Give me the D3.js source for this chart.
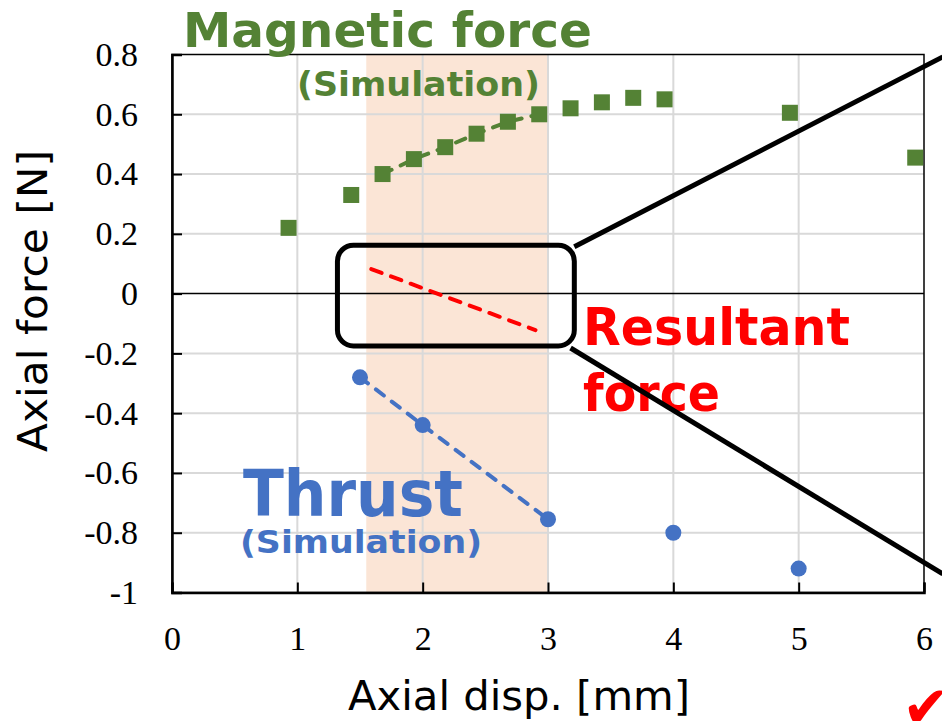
<!DOCTYPE html>
<html>
<head>
<meta charset="utf-8">
<script src="https://cdn.jsdelivr.net/npm/d3@7/dist/d3.min.js"></script>
<style>
  body { margin: 0; background: #fff; }
  svg { display: block; }
</style>
</head>
<body>
<div id="chart"></div>
<script>
// axis ticks
const xTicks = [0, 1, 2, 3, 4, 5, 6];
const xTickLabels = ['0', '1', '2', '3', '4', '5', '6'];
const yTicks = [-1, -0.8, -0.6, -0.4, -0.2, 0, 0.2, 0.4, 0.6, 0.8];
const yTickLabels = ['-1', '-0.8', '-0.6', '-0.4', '-0.2', '0', '0.2', '0.4', '0.6', '0.8'];

// magnetic force (simulation), squares
const magneticX = [0.93, 1.43, 1.68, 1.93, 2.18, 2.43, 2.68, 2.93, 3.18, 3.43, 3.68, 3.93, 4.93, 5.93];
const magneticY = [0.22, 0.33, 0.40, 0.45, 0.49, 0.535, 0.575, 0.60, 0.62, 0.64, 0.655, 0.65, 0.605, 0.455];

// thrust (simulation), circles
const thrustX = [1.5, 2, 3, 4, 5];
const thrustY = [-0.28, -0.44, -0.755, -0.80, -0.92];

// resultant force (dashed line)
const resultantX = [1.59, 2.90];
const resultantY = [0.082, -0.122];

// highlighted range and zoom box
const bandRange = [1.55, 3.0];
const zoomBoxX = [1.32, 3.21];
const zoomBoxY = [0.162, -0.175];
const calloutFrom = [[3.21, 0.157], [3.18, -0.182]];
const calloutTo = [[6.15, 0.792], [6.15, -0.938]];

const green = '#548235', blue = '#4472c4', red = '#ff0000';

const width = 942, height = 721;
const plot = { left: 172, right: 924, top: 54.5, bottom: 592.5 };

const x = d3.scaleLinear().domain([0, 6]).range([plot.left, plot.right]);
const y = d3.scaleLinear().domain([-1, 0.8]).range([plot.bottom, plot.top]);

const svg = d3.select('#chart').append('svg')
  .attr('width', width)
  .attr('height', height);

// shaded band
svg.append('rect')
  .attr('x', x(bandRange[0]))
  .attr('y', plot.top)
  .attr('width', x(bandRange[1]) - x(bandRange[0]))
  .attr('height', plot.bottom - plot.top)
  .attr('fill', '#fbe5d6');

// grid
svg.append('g')
  .selectAll('line')
  .data(yTicks.filter(d => d !== 0 && d !== -1 && d !== 0.8))
  .enter().append('line')
    .attr('x1', plot.left).attr('x2', plot.right)
    .attr('y1', d => y(d)).attr('y2', d => y(d))
    .attr('stroke', '#d9d9d9').attr('stroke-width', 2);

svg.append('g')
  .selectAll('line')
  .data(xTicks.filter(d => d > 0 && d < 6))
  .enter().append('line')
    .attr('x1', d => x(d)).attr('x2', d => x(d))
    .attr('y1', plot.top).attr('y2', plot.bottom)
    .attr('stroke', '#d9d9d9').attr('stroke-width', 2);

// zero line
svg.append('line')
  .attr('x1', plot.left).attr('x2', plot.right)
  .attr('y1', y(0)).attr('y2', y(0))
  .attr('stroke', '#000').attr('stroke-width', 1.5);

// frame
svg.append('rect')
  .attr('x', plot.left).attr('y', plot.top)
  .attr('width', plot.right - plot.left)
  .attr('height', plot.bottom - plot.top)
  .attr('fill', 'none').attr('stroke', '#000').attr('stroke-width', 1.5);

// axes
const xAxis = d3.axisBottom(x)
  .tickValues(xTicks)
  .tickFormat((d, i) => xTickLabels[i])
  .tickSize(-10)
  .tickPadding(33);

const yAxis = d3.axisLeft(y)
  .tickValues(yTicks)
  .tickFormat((d, i) => yTickLabels[i])
  .tickSize(-10)
  .tickPadding(34);

const gx = svg.append('g')
  .attr('transform', 'translate(0,' + plot.bottom + ')')
  .call(xAxis);

const gy = svg.append('g')
  .attr('transform', 'translate(' + plot.left + ',0)')
  .call(yAxis);

[gx, gy].forEach(g => {
  g.select('.domain').attr('stroke', '#000').attr('stroke-width', 2.5);
  g.selectAll('.tick line').attr('stroke', '#000').attr('stroke-width', 2);
  g.selectAll('.tick text')
    .attr('fill', '#000')
    .style('font-family', '"Liberation Serif", "Times New Roman", serif')
    .style('font-size', '34px');
});

// axis titles
svg.append('text')
  .attr('x', 519).attr('y', 710)
  .attr('text-anchor', 'middle')
  .style('font-family', '"DejaVu Sans", Verdana, sans-serif')
  .style('font-size', '41px')
  .attr('textLength', 342).attr('lengthAdjust', 'spacingAndGlyphs')
  .text('Axial disp. [mm]');

svg.append('text')
  .attr('transform', 'translate(47,301) rotate(-90)')
  .attr('text-anchor', 'middle')
  .style('font-family', '"DejaVu Sans", Verdana, sans-serif')
  .style('font-size', '41px')
  .attr('textLength', 302).attr('lengthAdjust', 'spacingAndGlyphs')
  .text('Axial force [N]');

// zoom box
svg.append('rect')
  .attr('x', x(zoomBoxX[0]))
  .attr('y', y(zoomBoxY[0]))
  .attr('width', x(zoomBoxX[1]) - x(zoomBoxX[0]))
  .attr('height', y(zoomBoxY[1]) - y(zoomBoxY[0]))
  .attr('rx', 16).attr('ry', 16)
  .attr('fill', 'none').attr('stroke', '#000').attr('stroke-width', 5);

// resultant dashed line
const line = d3.line().x(d => x(d[0])).y(d => y(d[1]));

svg.append('path')
  .datum(resultantX.map((d, i) => [d, resultantY[i]]))
  .attr('d', line)
  .attr('fill', 'none').attr('stroke', red).attr('stroke-width', 4)
  .attr('stroke-linecap', 'round').attr('stroke-dasharray', '11,10');

// magnetic fit line (points inside the band)
const magneticFit = magneticX
  .map((d, i) => [d, magneticY[i]])
  .filter(d => d[0] >= bandRange[0] && d[0] <= bandRange[1]);

svg.append('path')
  .datum(magneticFit)
  .attr('d', line)
  .attr('fill', 'none').attr('stroke', green).attr('stroke-width', 4)
  .attr('stroke-linecap', 'round').attr('stroke-dasharray', '10,10');

// thrust fit line
const thrustFit = thrustX
  .map((d, i) => [d, thrustY[i]])
  .filter(d => d[0] >= 1.5 && d[0] <= bandRange[1]);

svg.append('path')
  .datum(thrustFit)
  .attr('d', line)
  .attr('fill', 'none').attr('stroke', blue).attr('stroke-width', 4)
  .attr('stroke-linecap', 'round').attr('stroke-dasharray', '10,10');

// markers
const sq = 16;
svg.append('g')
  .selectAll('rect')
  .data(magneticX.map((d, i) => [d, magneticY[i]]))
  .enter().append('rect')
    .attr('x', d => x(d[0]) - sq / 2)
    .attr('y', d => y(d[1]) - sq / 2)
    .attr('width', sq).attr('height', sq)
    .attr('fill', green);

svg.append('g')
  .selectAll('circle')
  .data(thrustX.map((d, i) => [d, thrustY[i]]))
  .enter().append('circle')
    .attr('cx', d => x(d[0]))
    .attr('cy', d => y(d[1]))
    .attr('r', 8)
    .attr('fill', blue);

// labels
const label = (txt, px, py, size, len, color) =>
  svg.append('text')
    .attr('x', px).attr('y', py)
    .attr('fill', color)
    .style('font-family', '"DejaVu Sans", Verdana, sans-serif')
    .style('font-weight', 'bold')
    .style('font-size', size + 'px')
    .attr('textLength', len).attr('lengthAdjust', 'spacingAndGlyphs')
    .text(txt);

label('Magnetic force', 183, 47, 48, 409, green);
label('(Simulation)', 297, 96, 33, 243, green);
label('Thrust', 243, 516, 64, 220, blue);
label('(Simulation)', 240, 553, 32, 242, blue);
label('Resultant', 583, 345, 51, 267, red);
label('force', 583, 411, 51, 137, red);

// callout lines
svg.append('g')
  .selectAll('line')
  .data(calloutFrom.map((d, i) => [d, calloutTo[i]]))
  .enter().append('line')
    .attr('x1', d => x(d[0][0])).attr('y1', d => y(d[0][1]))
    .attr('x2', d => x(d[1][0])).attr('y2', d => y(d[1][1]))
    .attr('stroke', '#000').attr('stroke-width', 5);

// check mark
svg.append('text')
  .attr('x', 902).attr('y', 727)
  .attr('fill', red)
  .style('font-family', '"DejaVu Sans", sans-serif')
  .style('font-size', '58px')
  .text('\u2714');
</script>
</body>
</html>
